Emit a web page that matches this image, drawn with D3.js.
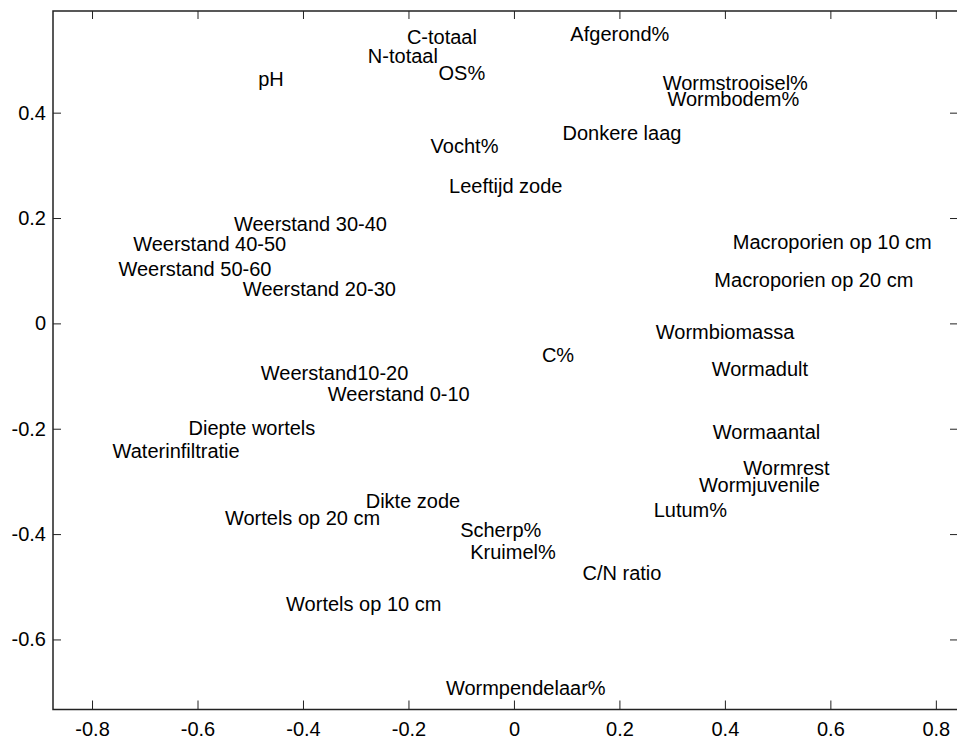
<!DOCTYPE html>
<html>
<head>
<meta charset="utf-8">
<script src="https://cdn.jsdelivr.net/npm/d3@7"></script>
<style>
  body { margin: 0; background: #fff; }
  text { font-family: "Liberation Sans", Arial, Helvetica, sans-serif; fill: #000; }
</style>
</head>
<body>
<svg width="957" height="740"></svg>
<script>
// variable names and their loadings (text anchor = left/middle of label)
var labels = ["C-totaal", "N-totaal", "OS%", "pH", "Afgerond%", "Wormstrooisel%", "Wormbodem%",
  "Donkere laag", "Vocht%", "Leeftijd zode", "Weerstand 30-40", "Weerstand 40-50", "Weerstand 50-60",
  "Weerstand 20-30", "Macroporien op 10 cm", "Macroporien op 20 cm", "Wormbiomassa", "C%",
  "Weerstand10-20", "Wormadult", "Weerstand 0-10", "Diepte wortels", "Waterinfiltratie", "Wormaantal",
  "Wormrest", "Wormjuvenile", "Dikte zode", "Lutum%", "Wortels op 20 cm", "Scherp%", "Kruimel%",
  "C/N ratio", "Wortels op 10 cm", "Wormpendelaar%"];
var xVals = [-0.203, -0.277, -0.143, -0.485, 0.107, 0.282, 0.291,
  0.092, -0.158, -0.123, -0.531, -0.722, -0.750,
  -0.514, 0.415, 0.380, 0.269, 0.053,
  -0.480, 0.375, -0.353, -0.617, -0.761, 0.377,
  0.435, 0.351, -0.281, 0.265, -0.548, -0.102, -0.083,
  0.130, -0.432, -0.129];
var yVals = [0.544, 0.508, 0.476, 0.463, 0.549, 0.457, 0.425,
  0.362, 0.337, 0.261, 0.189, 0.151, 0.103,
  0.066, 0.155, 0.082, -0.017, -0.060,
  -0.094, -0.087, -0.135, -0.199, -0.242, -0.206,
  -0.275, -0.307, -0.337, -0.355, -0.370, -0.393, -0.434,
  -0.473, -0.533, -0.693];

var xTicks = [-0.8, -0.6, -0.4, -0.2, 0, 0.2, 0.4, 0.6, 0.8];
var yTicks = [-0.6, -0.4, -0.2, 0, 0.2, 0.4];

// plot box edges (window.top is reserved, so use other names)
var boxL = 53, boxR = 958, boxT = 11, boxB = 709.5;

var svg = d3.select("svg");

var x = d3.scaleLinear().domain([-0.874, 0.842]).range([boxL, boxR]);
var y = d3.scaleLinear().domain([-0.733, 0.593]).range([boxB, boxT]);

// plain hyphen minus like the original
var fmt = function(d) { return d === 0 ? "0" : d3.format(".1f")(d).replace("\u2212", "-"); };

// bottom axis with inward ticks
svg.append("g")
  .attr("transform", "translate(0," + boxB + ")")
  .call(d3.axisBottom(x).tickValues(xTicks).tickFormat(fmt).tickSizeInner(-9).tickSizeOuter(0).tickPadding(12));

// top ticks
svg.append("g")
  .attr("transform", "translate(0," + boxT + ")")
  .call(d3.axisTop(x).tickValues(xTicks).tickFormat("").tickSizeInner(-8).tickSizeOuter(0));

// left axis
svg.append("g")
  .attr("transform", "translate(" + boxL + ",0)")
  .call(d3.axisLeft(y).tickValues(yTicks).tickFormat(fmt).tickSizeInner(-8).tickSizeOuter(0).tickPadding(7));

// right ticks
svg.append("g")
  .attr("transform", "translate(" + boxR + ",0)")
  .call(d3.axisRight(y).tickValues(yTicks).tickFormat("").tickSizeInner(-8).tickSizeOuter(0));

svg.selectAll(".domain").remove();
svg.selectAll(".tick line").attr("stroke", "#222").attr("stroke-width", 1);
svg.selectAll(".tick text").attr("font-size", 20).attr("font-family", "Liberation Sans, Arial, sans-serif").attr("fill", "#000");

// box
svg.append("rect")
  .attr("x", boxL).attr("y", boxT)
  .attr("width", boxR - boxL).attr("height", boxB - boxT)
  .attr("fill", "none").attr("stroke", "#222").attr("stroke-width", 1.5);

// variable labels
svg.append("g").selectAll("text")
  .data(labels)
  .enter()
  .append("text")
  .attr("x", function(d, i) { return x(xVals[i]); })
  .attr("y", function(d, i) { return y(yVals[i]); })
  .attr("dy", "0.35em")
  .attr("font-size", 20)
  .text(function(d) { return d; });
</script>
</body>
</html>
